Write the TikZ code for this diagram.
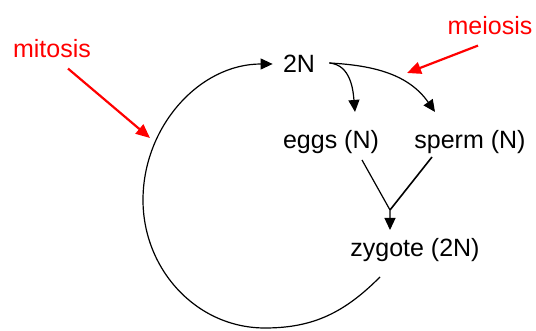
\documentclass[tikz,border=0pt]{standalone}
\usepackage{fontspec}
\setmainfont{Liberation Sans}
\usetikzlibrary{arrows.meta,positioning}
\definecolor{notered}{RGB}{255,0,0}
\tikzset{
  celltext/.style={font=\fontsize{12.5}{14}\selectfont,inner sep=5pt},
  notetext/.style={celltext,text=notered},
  cycarrow/.style={-{Triangle[length=6pt,width=5.5pt]},line width=0.6pt},
  cycline/.style={line width=0.6pt},
  notearrow/.style={-{Triangle[length=7pt,width=6pt]},line width=1.1pt,draw=notered},
}
\begin{document}
\begin{tikzpicture}[x=0.5pt,y=-0.5pt]
  \useasboundingbox (0,0) rectangle (536,331);

  % Cycle nodes
  \node[celltext] (twoN) at (299,64) {2N};
  \node[celltext] (eggs) at (331,142) {eggs (N)};
  \node[celltext] (sperm) at (470,142) {sperm (N)};
  \node[celltext] (zygote) at (415,250) {zygote (2N)};

  % Notes
  \node[notetext] (mitosis) at (52,49) {mitosis};
  \node[notetext] (meiosis) at (490,26) {meiosis};
  \coordinate (mitosisspot) at (150,138);
  \coordinate (meiosisspot) at (407,73);
  \coordinate (cycbottom) at (265,328);
  \coordinate (cycleft) at (143,200);
  \coordinate (fuse) at (390,210);

  % Meiosis branches
  \draw[cycarrow] ([shift={(4,-1)}]twoN.east) to[out=-5,in=95] ([shift={(24,-8)}]eggs.north);
  \draw[cycarrow] ([shift={(4,-1)}]twoN.east) to[out=-3,in=125] ([shift={(-35,-8)}]sperm.north);

  % Fertilisation
  \draw[cycarrow] ([shift={(31,18)}]eggs.center) -- (fuse) -- ([shift={(-25,-20)}]zygote.center);
  \draw[cycline,line width=0.8pt] ([shift={(-38,15)}]sperm.center) -- (fuse);

  % Mitosis loop
  \draw[cycarrow] ([shift={(-35,27)}]zygote.center) to[out=225,in=0] (cycbottom)
    to[out=180,in=270] (cycleft) to[out=90,in=180] (twoN.west);

  % Red pointers
  \draw[notearrow] ([xshift=8pt]mitosis.south) -- (mitosisspot);
  \draw[notearrow] ([xshift=-6pt]meiosis.south) -- (meiosisspot);
\end{tikzpicture}
\end{document}
